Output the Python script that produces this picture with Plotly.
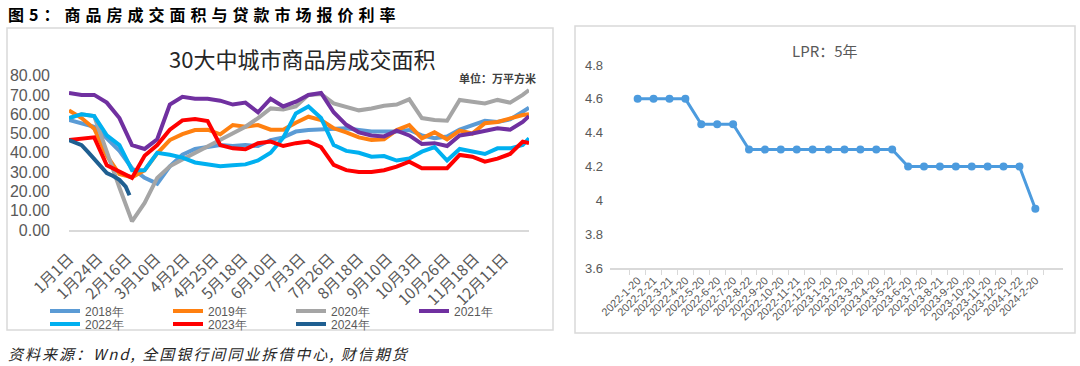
import plotly.graph_objects as go

# ---------------- data: left chart (30 cities, 10k m2) ----------------
YEAR_BASE = "2024"
DAY_LABELS = ["01-01", "01-11", "01-21", "01-31", "02-10", "02-20", "03-01", "03-11",
              "03-21", "03-31", "04-10", "04-20", "04-30", "05-10", "05-20", "05-30",
              "06-09", "06-19", "06-29", "07-09", "07-19", "07-29", "08-08", "08-18",
              "08-28", "09-07", "09-17", "09-27", "10-07", "10-17", "10-27", "11-06",
              "11-16", "11-26", "12-06", "12-16", "12-26", "12-31"]

y2018 = [57, 55.5, 53.5, 47.5, 41, 32, 27, 24, 33, 39, 42, 43, 44, 43.5, 44, 43.5,
         46.6, 48, 51, 51.8, 52, 52, 52.7, 51.8, 51, 51, 51, 51.8, 49, 47.5, 48.4, 52,
         54.4, 56.6, 56, 57.3, 61.3, 63.4]
y2019 = [62, 58, 52.5, 38.5, 29, 27.3, 31, 39.7, 46.6, 49.7, 51.8, 52, 49.6, 54.4, 53.5, 54.4,
         52, 52, 55.6, 58.7, 57, 52.7, 50.6, 48, 46.6, 47, 51.8, 54.4, 47.5, 50.6, 47, 51.5,
         50, 55.3, 56, 58, 59.6, 60]
y2020 = [58, 60, 59, 40, 22, 4.5, 14, 27, 33, 36.5, 40, 43, 46.5, 50, 53.5, 58,
         63, 62.5, 64, 70, 70.5, 65.6, 64, 62, 63, 64.4, 65, 67.7, 58, 57, 56.6, 67.4,
         66.5, 65.6, 67.4, 66, 70, 72.5]
y2021 = [71, 70, 70, 66, 58, 44, 42, 47, 65, 69, 68, 68, 67, 65, 66, 61,
         68, 64, 66.5, 70, 71, 61, 54.5, 50.6, 49, 48.5, 51.5, 49, 44.6, 45, 43.5, 49,
         50, 51.5, 52.7, 52, 56, 59]
y2022 = [58, 60, 59, 49, 44, 31, 31, 40, 39, 37.5, 35, 34, 33, 33.5, 34, 36,
         40, 47.8, 60.4, 64, 58, 44, 41, 40, 38, 38.3, 36, 37, 40.6, 43, 36, 42,
         40.6, 39.4, 42.3, 42.3, 44, 47.5]
y2023 = [46.6, 47.5, 48, 33.5, 30, 27, 38.5, 44, 52, 56.8, 57.5, 56.5, 44, 42.3, 41.8, 45,
         45.8, 43.5, 45, 45.8, 43, 33.7, 31, 30, 30, 31, 32.8, 35.4, 32, 32, 32, 38.9,
         38, 35.4, 37, 39.4, 45.8, 45]
DAY_LABELS_2024 = ["01-01", "01-06", "01-11", "01-16", "01-21", "01-26", "01-31",
                   "02-05", "02-10", "02-15", "02-18"]
y2024 = [46.6, 45.5, 44, 40.5, 37, 33.5, 29.5, 28, 26, 22.5, 18]

SERIES_NAMES = ["2018年", "2019年", "2020年", "2021年", "2022年", "2023年", "2024年"]
SERIES_COLORS = ["#5B9BD5", "#FF8010", "#A5A5A5", "#7030A0", "#00B0F0", "#FF0000", "#1F5F91"]

X_TICK_DATES = ["01-01", "01-24", "02-16", "03-10", "04-02", "04-25", "05-18", "06-10",
                "07-03", "07-26", "08-18", "09-10", "10-03", "10-26", "11-18", "12-11"]
X_TICK_TEXT = ["1月1日", "1月24日", "2月16日", "3月10日", "4月2日", "4月25日", "5月18日",
               "6月10日", "7月3日", "7月26日", "8月18日", "9月10日", "10月3日", "10月26日",
               "11月18日", "12月11日"]
Y_TICKS_LEFT = [0, 10, 20, 30, 40, 50, 60, 70, 80]

# ---------------- data: right chart (LPR 5Y) ----------------
LPR_DATES = ["2022-1-20", "2022-2-21", "2022-3-21", "2022-4-20", "2022-5-20", "2022-6-20",
             "2022-7-20", "2022-8-22", "2022-9-20", "2022-10-20", "2022-11-21", "2022-12-20",
             "2023-1-20", "2023-2-20", "2023-3-20", "2023-4-20", "2023-5-22", "2023-6-20",
             "2023-7-20", "2023-8-21", "2023-9-20", "2023-10-20", "2023-11-20", "2023-12-20",
             "2024-1-22", "2024-2-20"]
LPR_5Y = [4.6, 4.6, 4.6, 4.6, 4.45, 4.45, 4.45, 4.3, 4.3, 4.3, 4.3, 4.3, 4.3, 4.3, 4.3, 4.3,
          4.3, 4.2, 4.2, 4.2, 4.2, 4.2, 4.2, 4.2, 4.2, 3.95]
LPR_Y_TICKS = [3.6, 3.8, 4.0, 4.2, 4.4, 4.6, 4.8]
LPR_Y_TEXT = ["3.6", "3.8", "4", "4.2", "4.4", "4.6", "4.8"]

# ---------------- layout helpers ----------------
W, H = 1080, 366
def px(x):
    return x / W
def py(y):
    return 1 - y / H

def dates(lst):
    return [f"{YEAR_BASE}-{d}" for d in lst]

fig = go.Figure()

left_series = [y2018, y2019, y2020, y2021, y2022, y2023]
for i, vals in enumerate(left_series):
    fig.add_trace(go.Scatter(
        x=dates(DAY_LABELS), y=vals, mode="lines", name=SERIES_NAMES[i],
        line=dict(color=SERIES_COLORS[i], width=4), xaxis="x", yaxis="y",
        legend="legend" if i < 4 else "legend2", showlegend=True))
fig.add_trace(go.Scatter(
    x=dates(DAY_LABELS_2024), y=y2024, mode="lines", name=SERIES_NAMES[6],
    line=dict(color=SERIES_COLORS[6], width=4), xaxis="x", yaxis="y",
    legend="legend2"))

fig.add_trace(go.Scatter(
    x=LPR_DATES, y=LPR_5Y, mode="lines+markers", name="LPR：5年",
    line=dict(color="#4C9BDE", width=3), marker=dict(size=8, color="#4C9BDE"),
    xaxis="x2", yaxis="y2", showlegend=False))

grey = "#595959"
narrow = "Liberation Sans Narrow, Arial Narrow, Liberation Sans, sans-serif"
cjk = "Noto Sans CJK SC, Noto Sans, sans-serif"

fig.update_layout(
    width=W, height=H, margin=dict(l=0, r=0, t=0, b=0, autoexpand=False),
    paper_bgcolor="white", plot_bgcolor="white",
    xaxis=dict(domain=[px(69), px(529)], type="date",
               range=[f"{YEAR_BASE}-01-01", f"{YEAR_BASE}-12-31"],
               tickvals=dates(X_TICK_DATES), ticktext=X_TICK_TEXT, tickangle=-45,
               tickfont=dict(family=cjk, size=15.5, color=grey),
               ticks="", ticklabelstandoff=12,
               showline=True, linecolor="#D9D9D9", linewidth=1.5, automargin=False,
               showgrid=False, zeroline=False, anchor="y"),
    yaxis=dict(domain=[py(230), py(75.6)], range=[0, 80],
               tickvals=Y_TICKS_LEFT, tickformat=".2f",
               tickfont=dict(family="Liberation Sans, Arial, sans-serif", size=16, color=grey),
               ticks="", ticklabelstandoff=18, automargin=False,
               showgrid=False, zeroline=False, showline=False, anchor="x"),
    xaxis2=dict(domain=[px(610), px(1063)], type="category",
                tickangle=-45, tickfont=dict(family=narrow, size=11, color=grey),
                ticks="outside", ticklen=5, tickcolor="#D9D9D9", tickson="boundaries",
                showline=True, linecolor="#D9D9D9", linewidth=1.5, automargin=False,
                showgrid=False, zeroline=False, anchor="y2"),
    yaxis2=dict(domain=[py(268), py(65)], range=[3.6, 4.8],
                tickvals=LPR_Y_TICKS, ticktext=LPR_Y_TEXT,
                tickfont=dict(family=narrow, size=13, color=grey),
                ticks="", ticklabelstandoff=6, automargin=False,
                showgrid=False, zeroline=False, showline=False, anchor="x2"),
    legend=dict(orientation="h", x=px(45), y=py(311), xanchor="left", yanchor="middle",
                font=dict(family="Liberation Sans, Arial, sans-serif", size=12, color=grey),
                entrywidth=78, entrywidthmode="pixels", bgcolor="rgba(0,0,0,0)"),
    legend2=dict(orientation="h", x=px(45), y=py(324), xanchor="left", yanchor="middle",
                 font=dict(family="Liberation Sans, Arial, sans-serif", size=12, color=grey),
                 entrywidth=78, entrywidthmode="pixels", bgcolor="rgba(0,0,0,0)"),
    showlegend=True,
)

# panel frames
fig.add_shape(type="rect", xref="paper", yref="paper", x0=px(7), x1=px(553), y0=py(330), y1=py(28),
              line=dict(color="#D9D9D9", width=1.5), fillcolor="rgba(0,0,0,0)", layer="below")
fig.add_shape(type="rect", xref="paper", yref="paper", x0=px(575), x1=px(1075), y0=py(333), y1=py(26),
              line=dict(color="#D9D9D9", width=1.5), fillcolor="rgba(0,0,0,0)", layer="below")

# texts
fig.add_annotation(xref="paper", yref="paper", x=px(6), y=py(14), xanchor="left", yanchor="middle",
                   showarrow=False,
                   text="<b><span style='letter-spacing:5px'>图5：商品房成交面积与贷款市场报价利率</span></b>",
                   font=dict(family=cjk, size=16, color="#000000"))
fig.add_annotation(xref="paper", yref="paper", x=px(302), y=py(58), xanchor="center", yanchor="middle",
                   showarrow=False, text="30大中城市商品房成交面积",
                   font=dict(family=cjk, size=22, color="#262626"))
fig.add_annotation(xref="paper", yref="paper", x=px(538), y=py(78), xanchor="right", yanchor="middle",
                   showarrow=False, text="<b>单位：万平方米</b>",
                   font=dict(family=cjk, size=11, color="#404040"))
fig.add_annotation(xref="paper", yref="paper", x=px(825), y=py(50), xanchor="center", yanchor="middle",
                   showarrow=False, text="LPR：5年",
                   font=dict(family=cjk, size=15, color=grey))
fig.add_annotation(xref="paper", yref="paper", x=px(6), y=py(353), xanchor="left", yanchor="middle",
                   showarrow=False,
                   text="<i><span style='letter-spacing:2px'>资料来源：Wnd, 全国银行间同业拆借中心, 财信期货</span></i>",
                   font=dict(family=cjk, size=15, color="#262626"))

fig.write_html("out.html", config={"displayModeBar": False},
               post_script="document.body.style.margin='0';document.body.style.padding='0';")
